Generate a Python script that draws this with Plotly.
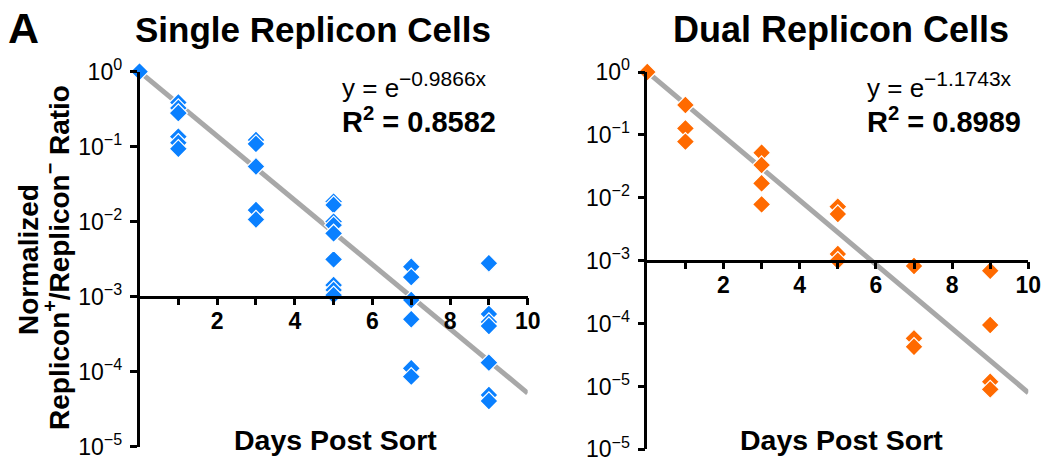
import plotly.graph_objects as go

W, H = 1044, 461

# ---- data ----
single_days = [0, 1, 1, 1, 1, 1, 1, 3, 3, 3, 3, 3,
               5, 5, 5, 5, 5, 5, 5, 5, 5,
               7, 7, 7, 7, 7, 7,
               9, 9, 9, 9, 9, 9, 9]
single_vals = [1.0, 0.388, 0.328, 0.281, 0.136, 0.113, 0.094,
               0.123, 0.109, 0.0545, 0.0143, 0.0107,
               0.0185, 0.0167, 0.0100, 0.0090, 0.0070, 0.00315, 0.00143, 0.00123, 0.00105,
               0.00251, 0.00182, 0.000904, 0.00050, 0.000111, 0.0000858,
               0.00279, 0.000588, 0.00046, 0.000407, 0.000132, 0.0000489, 0.0000407]

dual_days = [0, 1, 1, 1, 3, 3, 3, 3, 5, 5, 5, 5, 7, 7, 7, 9, 9, 9, 9]
dual_vals = [1.0, 0.299, 0.127, 0.078,
             0.0521, 0.0332, 0.0170, 0.00787,
             0.00722, 0.00553, 0.00128, 0.00100,
             0.000824, 0.0000583, 0.0000429,
             0.000693, 0.000095, 0.0000119, 0.0000090]

fit_x = [0, 10]
single_fit_y = [1.0, 5.18e-5]   # y = e^(-0.9866x)
dual_fit_y = [1.0, 7.96e-6]     # y = e^(-1.1743x)

x_tickvals = [1, 2, 3, 4, 5, 6, 7, 8, 9, 10]
x_ticktext = ["", "2", "", "4", "", "6", "", "8", "", "10"]
single_ytickvals = [1, 1e-1, 1e-2, 1e-3, 1e-4, 1e-5]
single_yticktext = ["0", "−1", "−2", "−3", "−4", "−5"]
dual_ytickvals = [1, 1e-1, 1e-2, 1e-3, 1e-4, 1e-5, 1e-6]
dual_yticktext = ["0", "−1", "−2", "−3", "−4", "−5", "−5"]

BLUE = "#0A80FF"
ORANGE = "#FF6A00"
GRAY = "#A8A8A8"
FONT = "Liberation Sans"


def px(x):
    return x / W


def py(y):
    return 1 - y / H


fig = go.Figure()

# fit lines
fig.add_trace(go.Scatter(x=fit_x, y=single_fit_y, mode="lines",
                         line=dict(color=GRAY, width=5), xaxis="x", yaxis="y",
                         showlegend=False, hoverinfo="skip"))
fig.add_trace(go.Scatter(x=fit_x, y=dual_fit_y, mode="lines",
                         line=dict(color=GRAY, width=5), xaxis="x2", yaxis="y2",
                         showlegend=False, hoverinfo="skip"))
# points
fig.add_trace(go.Scatter(x=single_days, y=single_vals, mode="markers",
                         marker=dict(symbol="diamond", size=14, color=BLUE,
                                     line=dict(color="white", width=1.2)),
                         cliponaxis=False, xaxis="x", yaxis="y", showlegend=False))
fig.add_trace(go.Scatter(x=dual_days, y=dual_vals, mode="markers",
                         marker=dict(symbol="diamond", size=14, color=ORANGE,
                                     line=dict(color="white", width=1.2)),
                         cliponaxis=False, xaxis="x2", yaxis="y2", showlegend=False))

xcommon = dict(range=[0, 10], showgrid=False, zeroline=False, showline=True,
               linecolor="black", linewidth=2.5, ticks="outside", ticklen=7,
               tickwidth=2.5, tickcolor="black", tickvals=x_tickvals,
               ticktext=["<b>%s</b>" % t if t else "" for t in x_ticktext],
               tickfont=dict(family=FONT, size=23, color="black"),
               ticklabelstandoff=-4, anchor="free", fixedrange=True,
               automargin=False, ticklabeloverflow="allow")
ycommon = dict(type="log", showgrid=False, zeroline=False, showline=True,
               linecolor="black", linewidth=2.5, ticks="outside", ticklen=7,
               tickwidth=2.5, tickcolor="black",
               tickfont=dict(family=FONT, size=23, color="black"),
               ticklabelstandoff=3, fixedrange=True, automargin=False,
               ticklabeloverflow="allow")

fig.update_layout(
    width=W, height=H,
    margin=dict(l=0, r=0, t=0, b=0, pad=0, autoexpand=False),
    autosize=False, showlegend=False,
    paper_bgcolor="white", plot_bgcolor="white",
    xaxis=dict(xcommon, domain=[px(139.5), px(527.7)], position=py(296.7)),
    yaxis=dict(ycommon, range=[-5, 0], domain=[py(446.7), py(71.7)], anchor="x",
               tickvals=single_ytickvals,
               ticktext=["10<sup>%s</sup>" % t for t in single_yticktext]),
    xaxis2=dict(xcommon, domain=[px(647.3), px(1028.3)], position=py(260.7)),
    yaxis2=dict(ycommon, range=[-6, 0], domain=[py(449.4), py(72)], anchor="x2",
                tickvals=dual_ytickvals,
                ticktext=["10<sup>%s</sup>" % t for t in dual_yticktext]),
)

ann = []


def add(text, x, y, size, bold=False, xanchor="center", yanchor="middle", angle=0):
    ann.append(dict(text=("<b>%s</b>" % text) if bold else text,
                    x=px(x), y=py(y), xref="paper", yref="paper",
                    xanchor=xanchor, yanchor=yanchor, showarrow=False,
                    textangle=angle,
                    font=dict(family=FONT, size=size, color="black")))


add("A", 23, 28, 43, bold=True)
add("Single Replicon Cells", 312.5, 30, 35, bold=True)
add("Dual Replicon Cells", 840.5, 30, 36, bold=True)
add("y = e<sup><span style='font-size:21px'>−0.9866x</span></sup>", 340, 85, 26,
    xanchor="left")
add("R<sup>2</sup> = 0.8582", 340, 120, 29, bold=True, xanchor="left")
add("y = e<sup><span style='font-size:21px'>−1.1743x</span></sup>", 865, 85, 26,
    xanchor="left")
add("R<sup>2</sup> = 0.8989", 865, 120, 29, bold=True, xanchor="left")
add("Days Post Sort", 335, 440, 28.5, bold=True)
add("Days Post Sort", 841, 440, 28.5, bold=True)
add("Normalized", 28, 260, 28, bold=True, angle=-90)
add("Replicon<sup>+</sup>/Replicon<sup>−</sup> Ratio", 57, 258, 28, bold=True, angle=-90)

fig.update_layout(annotations=ann)
fig.write_html("out.html",
               config={"displayModeBar": False},
               post_script="document.documentElement.style.overflow='hidden';"
                           "document.body.style.margin='0';"
                           "document.body.style.overflow='hidden';")
